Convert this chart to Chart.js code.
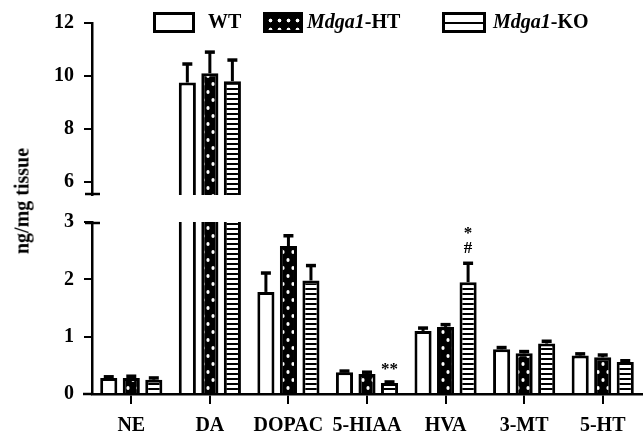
<!DOCTYPE html>
<html>
<head>
<meta charset="utf-8">
<script src="https://cdn.jsdelivr.net/npm/chart.js@4.4.0/dist/chart.umd.min.js"></script>
<style>
  body { margin: 0; background: #fff; }
  #wrap { position: relative; width: 644px; height: 441px; overflow: hidden; font-family: 'Liberation Serif', 'Times New Roman', serif; font-weight: bold; color: #000; }
  #topBox { position: absolute; left: 0; top: 0; width: 644px; height: 217px; }
  #bottomBox { position: absolute; left: 0; top: 200px; width: 644px; height: 241px; }
  .sw { position: absolute; top: 12px; height: 21px; box-sizing: border-box; border: 3px solid #000; }
  .lt { position: absolute; top: 11px; font-size: 20px; line-height: 20px; white-space: nowrap; }
  #yTitle { position: absolute; left: 22px; top: 201px; transform: translate(-50%, -50%) rotate(-90deg); font-size: 20px; white-space: nowrap; }
</style>
</head>
<body>
<div id="wrap">
  <div id="bottomBox"><canvas id="lowerChart"></canvas></div>
  <div id="topBox"><canvas id="upperChart"></canvas></div>
  <div class="sw" style="left:153px; width:42px; background:#fff;"></div>
  <div class="lt" style="left:208px;">WT</div>
  <div class="sw" style="left:263px; width:40px; background: radial-gradient(circle, #fff 1.6px, transparent 2.2px) 0 1px / 9px 9px, #000;"></div>
  <div class="lt" style="left:307px;"><i>Mdga1</i>-HT</div>
  <div class="sw" style="left:442px; width:44px; background: linear-gradient(#000, #000) center / 100% 2px no-repeat, #fff;"></div>
  <div class="lt" style="left:493px;"><i>Mdga1</i>-KO</div>
  <div id="yTitle">ng/mg tissue</div>
</div>
<script>
// catecholamine / serotonin content, ng/mg tissue
const categories = ['NE', 'DA', 'DOPAC', '5-HIAA', 'HVA', '3-MT', '5-HT'];
const wtMean = [0.28, 9.75, 1.78, 0.38, 1.10, 0.78, 0.67];
const wtErr  = [0.02, 0.70, 0.33, 0.02, 0.05, 0.03, 0.03];
const htMean = [0.28, 10.1, 2.58, 0.35, 1.17, 0.71, 0.64];
const htErr  = [0.03, 0.80, 0.18, 0.03, 0.04, 0.03, 0.04];
const koMean = [0.25, 9.80, 1.98, 0.19, 1.95, 0.88, 0.56];
const koErr  = [0.03, 0.80, 0.26, 0.02, 0.33, 0.04, 0.02];

// broken y axis: upper and lower segments
const upperRange = [5.5, 12];
const upperTicks = [6, 8, 10, 12];
const lowerRange = [0, 3];
const lowerTicks = [0, 1, 2, 3];
const brokenCategory = 'DA';

// significance marks (series index, category, text, value position)
const sigMarks = [
  { series: 2, category: '5-HIAA', text: '**', value: 0.42 },
  { series: 2, category: 'HVA', text: '#', value: 2.54 },
  { series: 2, category: 'HVA', text: '*', value: 2.80 }
];

const FONT = "'Liberation Serif', 'Times New Roman', serif";

function makeDotPattern() {
  const c = document.createElement('canvas');
  c.width = 10; c.height = 16;
  const g = c.getContext('2d');
  g.fillStyle = '#000';
  g.fillRect(0, 0, 10, 16);
  g.fillStyle = '#fff';
  g.beginPath(); g.ellipse(3, 4, 1.6, 2.1, 0, 0, Math.PI * 2); g.fill();
  g.beginPath(); g.ellipse(8, 12, 1.6, 2.1, 0, 0, Math.PI * 2); g.fill();
  return g.createPattern(c, 'repeat');
}

function makeStripePattern() {
  const c = document.createElement('canvas');
  c.width = 4; c.height = 5;
  const g = c.getContext('2d');
  g.fillStyle = '#fff';
  g.fillRect(0, 0, 4, 5);
  g.fillStyle = '#000';
  g.fillRect(0, 3, 4, 2);
  return g.createPattern(c, 'repeat');
}

const dotFill = makeDotPattern();
const stripeFill = makeStripePattern();

function buildDatasets(onlyBroken) {
  const keep = (arr) => arr.map((v, i) => (!onlyBroken || categories[i] === brokenCategory) ? v : null);
  const common = {
    borderColor: '#000',
    borderWidth: 3,
    borderSkipped: 'start',
    categoryPercentage: 0.86,
    barPercentage: 0.76
  };
  return [
    Object.assign({ label: 'WT', data: keep(wtMean), errors: wtErr, backgroundColor: '#fff' }, common),
    Object.assign({ label: 'Mdga1-HT', data: keep(htMean), errors: htErr, backgroundColor: dotFill }, common),
    Object.assign({ label: 'Mdga1-KO', data: keep(koMean), errors: koErr, backgroundColor: stripeFill }, common)
  ];
}

// error bars, only the upper half like the original
const errorBars = {
  id: 'errorBars',
  afterDatasetsDraw(chart) {
    const { ctx, chartArea } = chart;
    const yScale = chart.scales.y;
    ctx.save();
    ctx.beginPath();
    ctx.rect(chartArea.left, chartArea.top, chartArea.width, chartArea.height);
    ctx.clip();
    ctx.strokeStyle = '#000';
    chart.data.datasets.forEach((ds, di) => {
      const meta = chart.getDatasetMeta(di);
      meta.data.forEach((bar, i) => {
        const v = ds.data[i];
        const e = ds.errors[i];
        if (v == null || e == null) return;
        const yTop = yScale.getPixelForValue(v + e);
        ctx.lineWidth = 3;
        ctx.beginPath();
        ctx.moveTo(bar.x, bar.y);
        ctx.lineTo(bar.x, yTop);
        ctx.stroke();
        ctx.lineWidth = 3.5;
        ctx.beginPath();
        ctx.moveTo(bar.x - 5, yTop);
        ctx.lineTo(bar.x + 5, yTop);
        ctx.stroke();
      });
    });
    ctx.restore();
  }
};

// short marks where the axis is broken
const axisBreak = {
  id: 'axisBreak',
  afterDraw(chart, args, opts) {
    const { ctx, chartArea } = chart;
    ctx.save();
    ctx.strokeStyle = '#000';
    ctx.lineWidth = 2.5;
    const y = opts.edge === 'bottom' ? chartArea.bottom - 1 : chartArea.top + 1;
    ctx.beginPath();
    ctx.moveTo(chartArea.left - 7, y);
    ctx.lineTo(chartArea.left + 8, y);
    ctx.stroke();
    if (opts.edge === 'top') {
      // x axis runs a little past the y axis
      ctx.beginPath();
      ctx.moveTo(chartArea.left - 9, chartArea.bottom);
      ctx.lineTo(chartArea.left, chartArea.bottom);
      ctx.stroke();
    }
    ctx.restore();
  }
};

const sigLabels = {
  id: 'sigLabels',
  afterDatasetsDraw(chart) {
    const { ctx } = chart;
    const yScale = chart.scales.y;
    ctx.save();
    ctx.fillStyle = '#000';
    ctx.font = 'bold 17px ' + FONT;
    ctx.textAlign = 'center';
    ctx.textBaseline = 'middle';
    sigMarks.forEach(m => {
      const bar = chart.getDatasetMeta(m.series).data[categories.indexOf(m.category)];
      if (!bar) return;
      ctx.fillText(m.text, bar.x, yScale.getPixelForValue(m.value));
    });
    ctx.restore();
  }
};

function yAxis(range, ticks) {
  return {
    type: 'linear',
    min: range[0],
    max: range[1],
    stacked: false,
    afterBuildTicks: (scale) => { scale.ticks = ticks.map(v => ({ value: v })); },
    afterFit: (scale) => { scale.width = 92; },
    grid: { drawOnChartArea: false, color: '#000', lineWidth: 2, tickLength: 8 },
    border: { color: '#000', width: 2.5 },
    ticks: { color: '#000', font: { family: FONT, size: 20, weight: 'bold' }, padding: 10 }
  };
}

Chart.defaults.font.family = FONT;
Chart.defaults.color = '#000';

new Chart(document.getElementById('upperChart'), {
  type: 'bar',
  data: { labels: categories, datasets: buildDatasets(true) },
  options: {
    responsive: true,
    maintainAspectRatio: false,
    animation: false,
    layout: { padding: { top: 23, bottom: 6, right: 2, left: 0 } },
    plugins: { legend: { display: false }, tooltip: { enabled: false }, axisBreak: { edge: 'bottom' } },
    scales: {
      x: { display: false },
      y: yAxis(upperRange, upperTicks)
    }
  },
  plugins: [errorBars, axisBreak]
});

new Chart(document.getElementById('lowerChart'), {
  type: 'bar',
  data: { labels: categories, datasets: buildDatasets(false) },
  options: {
    responsive: true,
    maintainAspectRatio: false,
    animation: false,
    layout: { padding: { top: 22, bottom: 0, right: 2, left: 0 } },
    plugins: { legend: { display: false }, tooltip: { enabled: false }, axisBreak: { edge: 'top' } },
    scales: {
      x: {
        afterFit: (scale) => { scale.height = 47; },
        grid: { display: true, drawOnChartArea: false, offset: false, color: '#000', lineWidth: 2, tickLength: 10 },
        border: { color: '#000', width: 2.5 },
        ticks: { color: '#000', font: { family: FONT, size: 20, weight: 'bold' }, padding: 10, maxRotation: 0, autoSkip: false }
      },
      y: yAxis(lowerRange, lowerTicks)
    }
  },
  plugins: [errorBars, axisBreak, sigLabels]
});
</script>
</body>
</html>
